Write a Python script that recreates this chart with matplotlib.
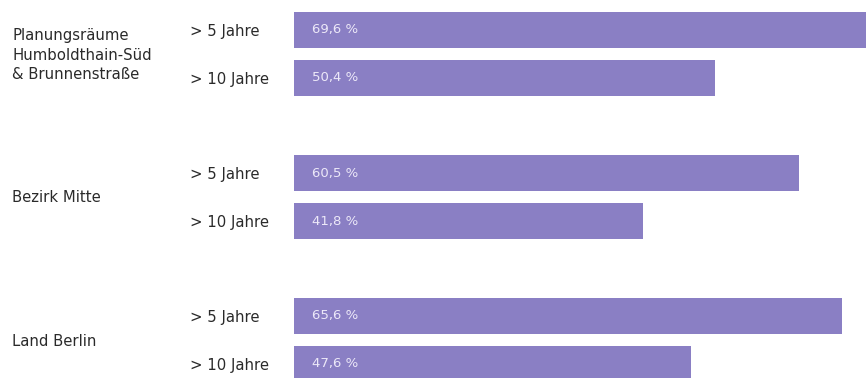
import matplotlib
matplotlib.use("Agg")
import matplotlib.pyplot as plt
from matplotlib.transforms import blended_transform_factory

groups = ["Planungsräume\nHumboldthain-Süd\n& Brunnenstraße", "Bezirk Mitte", "Land Berlin"]
periods = ["> 5 Jahre", "> 10 Jahre"]
values = [[69.6, 50.4], [60.5, 41.8], [65.6, 47.6]]
value_labels = [["69,6 %", "50,4 %"], ["60,5 %", "41,8 %"], ["65,6 %", "47,6 %"]]

BAR_COLOR = "#8a7fc4"
TEXT_COLOR = "#2a2a2a"
W, H = 866, 378

plt.rcParams["font.family"] = ["DejaVu Sans"]

fig = plt.figure(figsize=(W / 100, H / 100), dpi=100)
ax = fig.add_axes([294 / W, 0, 1 - 294 / W, 1])
ax.set_xlim(0, 68.5)
ax.set_ylim(H, 0)  # y in pixel rows, top down
ax.axis("off")

tr = blended_transform_factory(fig.transFigure, ax.transData)

first, bar_step, group_step, bar_h = 30, 48, 143, 36
label_shift = [1, 0, 2]
for g, name in enumerate(groups):
    ys = [first + g * group_step + i * bar_step for i in range(len(periods))]
    ax.barh(ys, values[g], height=bar_h, color=BAR_COLOR, left=0)
    for y, per, lab in zip(ys, periods, value_labels[g]):
        ax.text(190 / W, y + 1.5, per, transform=tr, fontsize=10.7, color=TEXT_COLOR,
                va="center", ha="left")
        ax.text(2.1, y, lab, fontsize=9.5, color="#ece8f8", va="center", ha="left")
    mid = (ys[0] + ys[-1]) / 2 + label_shift[g]
    ax.text(12 / W, mid, name, transform=tr, fontsize=10.7, color=TEXT_COLOR,
            va="center", ha="left", linespacing=1.35)

fig.savefig("out.png", dpi=100, facecolor="white")
